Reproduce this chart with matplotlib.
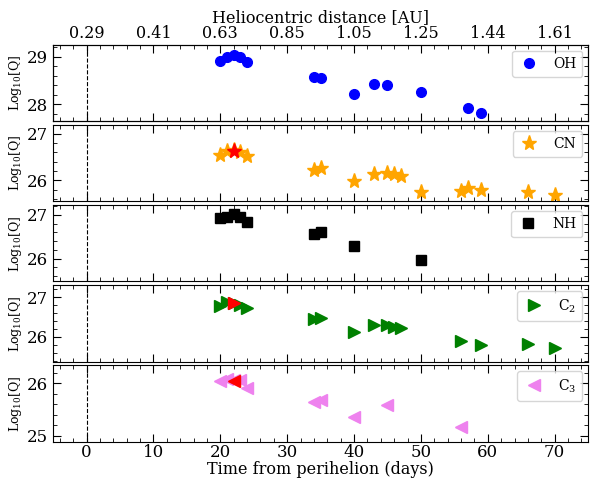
import numpy as np
import matplotlib.pyplot as plt
from matplotlib.ticker import MultipleLocator

plt.rcParams['font.family'] = 'DejaVu Serif'
plt.rcParams['mathtext.fontset'] = 'dejavuserif'

# ---- data (days from perihelion, log10 Q) ----
oh_t = [20, 21, 22, 23, 24, 34, 35, 40, 43, 45, 50, 57, 59]
oh_q = [28.91, 28.99, 29.035, 28.99, 28.89, 28.58, 28.545, 28.22, 28.43, 28.40, 28.26, 27.92, 27.82]

cn_t = [20, 21, 22, 23, 24, 34, 35, 40, 43, 45, 46, 47, 50, 56, 57, 59, 66, 70]
cn_q = [26.54, 26.62, 26.64, 26.60, 26.53, 26.23, 26.265, 25.99, 26.14, 26.16, 26.14, 26.10,
        25.76, 25.78, 25.83, 25.80, 25.76, 25.68]
cn_red_t = [22]
cn_red_q = [26.62]

nh_t = [20, 21, 22, 23, 24, 34, 35, 40, 50]
nh_q = [26.92, 26.96, 27.01, 26.955, 26.83, 26.56, 26.62, 26.30, 25.98]

c2_t = [20, 21, 22, 23, 24, 34, 35, 40, 43, 45, 46, 47, 56, 59, 66, 70]
c2_q = [26.79, 26.87, 26.85, 26.81, 26.73, 26.44, 26.48, 26.12, 26.29, 26.29, 26.26, 26.22,
        25.90, 25.79, 25.81, 25.73]
c2_red_t = [22]
c2_red_q = [26.85]

c3_t = [20, 21, 22, 23, 24, 34, 35, 40, 45, 56]
c3_q = [26.05, 26.08, 26.07, 26.06, 25.91, 25.64, 25.69, 25.35, 25.58, 25.16]
c3_red_t = [22]
c3_red_q = [26.05]

top_ticks = [0, 10, 20, 30, 40, 50, 60, 70]
top_labels = ['0.29', '0.41', '0.63', '0.85', '1.05', '1.25', '1.44', '1.61']

panels = [
    (oh_t, oh_q, 'o', 'blue', 7, 'OH', None, None, (27.64, 29.24)),
    (cn_t, cn_q, '*', 'orange', 11, 'CN', cn_red_t, cn_red_q, (25.55, 27.18)),
    (nh_t, nh_q, 's', 'black', 7, 'NH', None, None, (25.48, 27.22)),
    (c2_t, c2_q, '>', 'green', 9, 'C$_2$', c2_red_t, c2_red_q, (25.38, 27.30)),
    (c3_t, c3_q, '<', 'violet', 9, 'C$_3$', c3_red_t, c3_red_q, (24.89, 26.34)),
]

fig, axes = plt.subplots(5, 1, figsize=(5.91, 4.8), sharex=True)
fig.subplots_adjust(left=0.09, right=0.995, top=0.906, bottom=0.08, hspace=0.05)

for ax, (t, q, mk, col, ms, lab, rt, rq, yl) in zip(axes, panels):
    ax.plot(t, q, mk, color=col, ms=ms, ls='none', label=lab)
    if rt is not None:
        ax.plot(rt, rq, mk, color='red', ms=ms, ls='none')
    ax.axvline(0, color='black', ls='--', lw=0.8)
    ax.set_xlim(-5, 75)
    ax.set_ylim(*yl)
    ax.yaxis.set_major_locator(MultipleLocator(1))
    ax.yaxis.set_minor_locator(MultipleLocator(0.2))
    ax.xaxis.set_major_locator(MultipleLocator(10))
    ax.xaxis.set_minor_locator(MultipleLocator(2))
    ax.tick_params(which='both', direction='in', top=True, right=True, labelsize=12)
    ax.tick_params(which='major', length=6)
    ax.tick_params(which='minor', length=3)
    ax.tick_params(axis='x', pad=2)
    ax.set_ylabel('Log$_{10}$[Q]', fontsize=9, labelpad=2)
    ax.legend(loc='upper right', fontsize=10, handlelength=1.5, handletextpad=1.0,
              borderpad=0.45, borderaxespad=0.4)

axes[0].errorbar([22], [29.035], yerr=[0.1], fmt='none', ecolor='blue', lw=1)

top = axes[0].twiny()
top.set_xlim(-5, 75)
top.set_xticks(top_ticks)
top.set_xticklabels(top_labels)
top.xaxis.set_minor_locator(MultipleLocator(2))
top.tick_params(which='both', direction='in', labelsize=11.5, pad=2)
top.tick_params(which='major', length=6)
top.tick_params(which='minor', length=3)
top.set_xlabel('Heliocentric distance [AU]', fontsize=11.5, labelpad=2)

axes[-1].set_xlabel('Time from perihelion (days)', fontsize=11.5, labelpad=0)

fig.savefig('out.png', dpi=100)
